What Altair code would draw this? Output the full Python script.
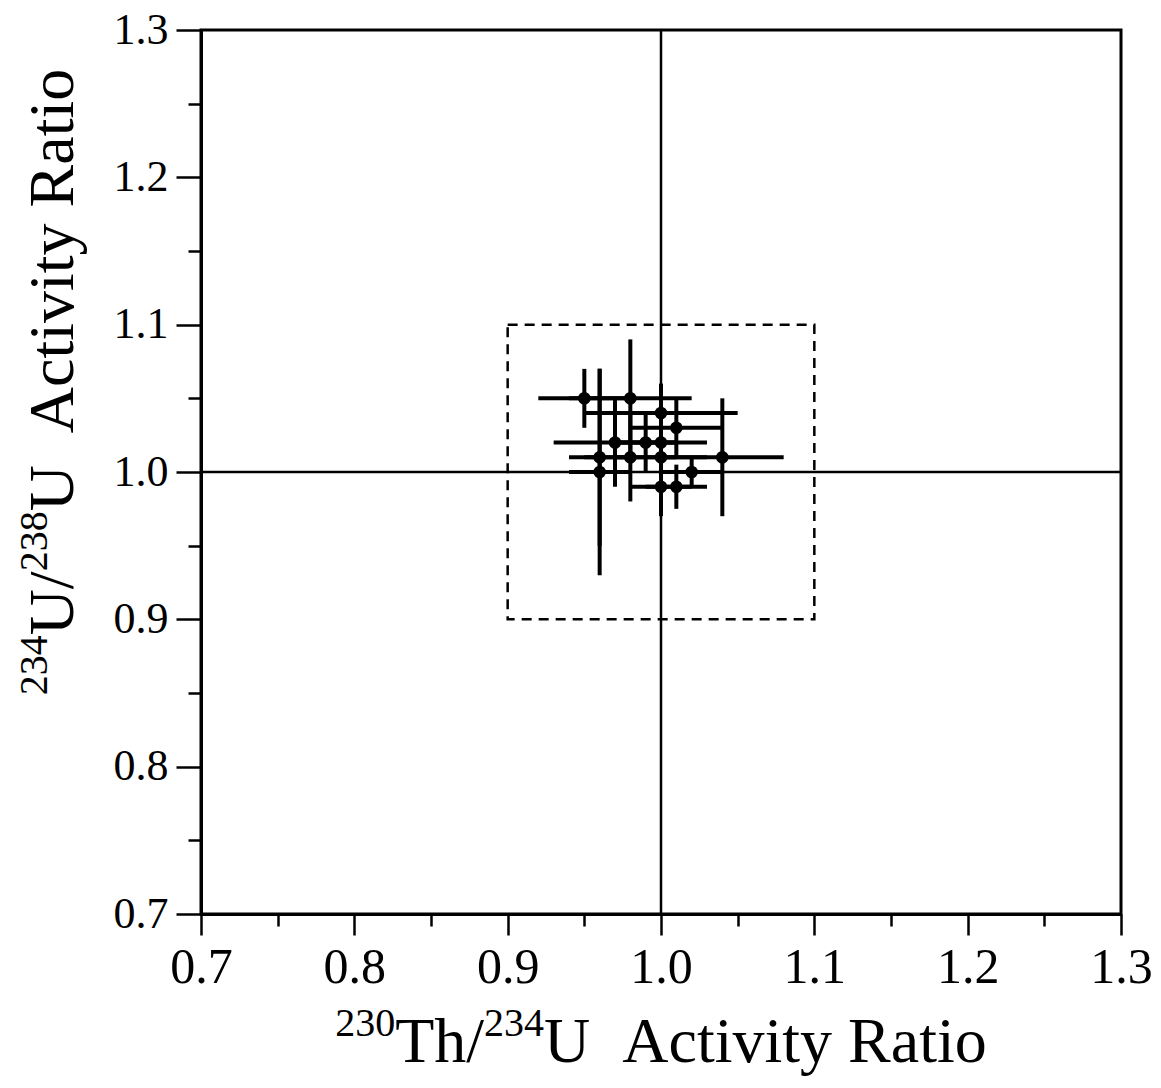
import altair as alt
import pandas as pd

# Data
th_u = [0.95, 0.98, 1.00, 1.01, 0.97, 0.99, 1.00, 0.96, 0.98, 1.00, 1.04, 0.96, 1.02, 1.00, 1.01]
u_u = [1.05, 1.05, 1.04, 1.03, 1.02, 1.02, 1.02, 1.01, 1.01, 1.01, 1.01, 1.00, 1.00, 0.99, 0.99]
th_err = [0.03, 0.04, 0.05, 0.03, 0.04, 0.02, 0.03, 0.02, 0.03, 0.03, 0.04, 0.02, 0.02, 0.02, 0.02]
u_err = [0.02, 0.04, 0.02, 0.02, 0.03, 0.02, 0.02, 0.06, 0.03, 0.02, 0.04, 0.07, 0.01, 0.02, 0.015]

box_lo = [0.9]
box_hi = [1.1]
ref_val = [1.0]
axis_min, axis_max = 0.7, 1.3
tick_values = [0.7, 0.75, 0.8, 0.85, 0.9, 0.95, 1.0, 1.05, 1.1, 1.15, 1.2, 1.25, 1.3]

# Axis titles as (text, is_superscript) pieces
x_title = [("230", True), ("Th/", False), ("234", True), ("U\u00a0\u00a0Activity Ratio", False)]
y_title = [("234", True), ("U/", False), ("238", True), ("U\u00a0\u00a0Activity Ratio", False)]

W, H = 920, 884
FONT = "Liberation Serif"
F_TITLE, F_SUP, SUP_SHIFT = 64, 40, 26

# Times / Liberation Serif advance widths (per em)
ADV = {"0": .5, "1": .5, "2": .5, "3": .5, "4": .5, "5": .5, "6": .5, "7": .5, "8": .5, "9": .5,
       "T": .611, "h": .5, "/": .278, "U": .722, "\u00a0": .25, " ": .25, "A": .722, "c": .444,
       "t": .278, "i": .278, "v": .5, "y": .5, "R": .667, "a": .444, "o": .5}


def text_width(s, size):
    return sum(ADV.get(ch, .5) for ch in s) * size


df = pd.DataFrame({"x": th_u, "y": u_u, "xe": th_err, "ye": u_err})
df["x_lo"] = df.x - df.xe
df["x_hi"] = df.x + df.xe
df["y_lo"] = df.y - df.ye
df["y_hi"] = df.y + df.ye

major_test = "round(datum.value*100) % 10 == 0"
label_expr = f"({major_test}) ? format(datum.value, '.1f') : ''"

xscale = alt.Scale(domain=[axis_min, axis_max], nice=False, zero=False)
yscale = alt.Scale(domain=[axis_min, axis_max], nice=False, zero=False)

x_axis = alt.Axis(
    values=tick_values, labelExpr=label_expr, grid=False, title=None,
    tickSize={"condition": {"test": major_test, "value": 21}, "value": 12},
    tickWidth=2.5, tickColor="black", domainColor="black", domainWidth=3,
    labelFont=FONT, labelFontSize=50, labelColor="black", labelPadding=7,
    labelOverlap=False, labelFlush=False,
)
y_axis = alt.Axis(
    values=tick_values, labelExpr=label_expr, grid=False, title=None,
    tickSize={"condition": {"test": major_test, "value": 25}, "value": 13},
    tickWidth=2.5, tickColor="black", domainColor="black", domainWidth=3,
    labelFont=FONT, labelFontSize=44, labelColor="black", labelPadding=8,
    labelOverlap=False, labelFlush=False,
)

base = alt.Chart(df)

ref_df = pd.DataFrame({"v": ref_val, "lo": [axis_min], "hi": [axis_max]})
vline = alt.Chart(ref_df).mark_rule(color="black", strokeWidth=2.5).encode(
    x=alt.X("v:Q", scale=xscale, axis=x_axis),
    y=alt.Y("lo:Q", scale=yscale, axis=y_axis),
    y2="hi:Q",
)
hline = alt.Chart(ref_df).mark_rule(color="black", strokeWidth=2.5).encode(
    y=alt.Y("v:Q", scale=yscale),
    x=alt.X("lo:Q", scale=xscale),
    x2="hi:Q",
)

box_df = pd.DataFrame({"lo": box_lo, "hi": box_hi})
box = alt.Chart(box_df).mark_rect(
    fill=None, fillOpacity=0, stroke="black", strokeWidth=2.5, strokeDash=[10, 7]
).encode(
    x=alt.X("lo:Q", scale=xscale), x2="hi:Q",
    y=alt.Y("lo:Q", scale=yscale), y2="hi:Q",
)

xerr = base.mark_rule(color="black", strokeWidth=4).encode(
    x=alt.X("x_lo:Q", scale=xscale), x2="x_hi:Q", y=alt.Y("y:Q", scale=yscale)
)
yerr = base.mark_rule(color="black", strokeWidth=4).encode(
    y=alt.Y("y_lo:Q", scale=yscale), y2="y_hi:Q", x=alt.X("x:Q", scale=xscale)
)
pts = base.mark_circle(color="black", opacity=1, size=160).encode(
    x=alt.X("x:Q", scale=xscale), y=alt.Y("y:Q", scale=yscale)
)

# ---- axis titles with real superscripts ----
dummy = pd.DataFrame({"d": [0]})
title_layers = []

# x title: centred under the plot, baseline below the tick labels
x_base_y = 1032
x_center = 460
widths = [text_width(t, F_SUP if sup else F_TITLE) for t, sup in x_title]
cur = x_center - sum(widths) / 2
for (t, sup), w in zip(x_title, widths):
    title_layers.append(
        alt.Chart(dummy).mark_text(
            text=t, font=FONT, fontSize=F_SUP if sup else F_TITLE, align="left",
            baseline="alphabetic", color="black",
        ).encode(x=alt.value(cur), y=alt.value(x_base_y - SUP_SHIFT if sup else x_base_y))
    )
    cur += w

# y title: rotated, reading bottom to top
y_base_x = -128
y_center = 352
widths = [text_width(t, F_SUP if sup else F_TITLE) for t, sup in y_title]
cur = y_center + sum(widths) / 2
for (t, sup), w in zip(y_title, widths):
    title_layers.append(
        alt.Chart(dummy).mark_text(
            text=t, font=FONT, fontSize=F_SUP if sup else F_TITLE, align="left",
            baseline="alphabetic", angle=270, color="black",
        ).encode(x=alt.value(y_base_x - SUP_SHIFT if sup else y_base_x), y=alt.value(cur))
    )
    cur -= w

chart = alt.layer(vline, hline, box, xerr, yerr, pts, *title_layers).properties(
    width=W, height=H,
    autosize=alt.AutoSizeParams(type="none"),
    padding={"left": 193, "top": 22, "right": 32, "bottom": 162},
    background="white",
).configure_view(stroke="black", strokeWidth=3)

chart.save("out.html", embed_options={"renderer": "svg", "actions": False})
